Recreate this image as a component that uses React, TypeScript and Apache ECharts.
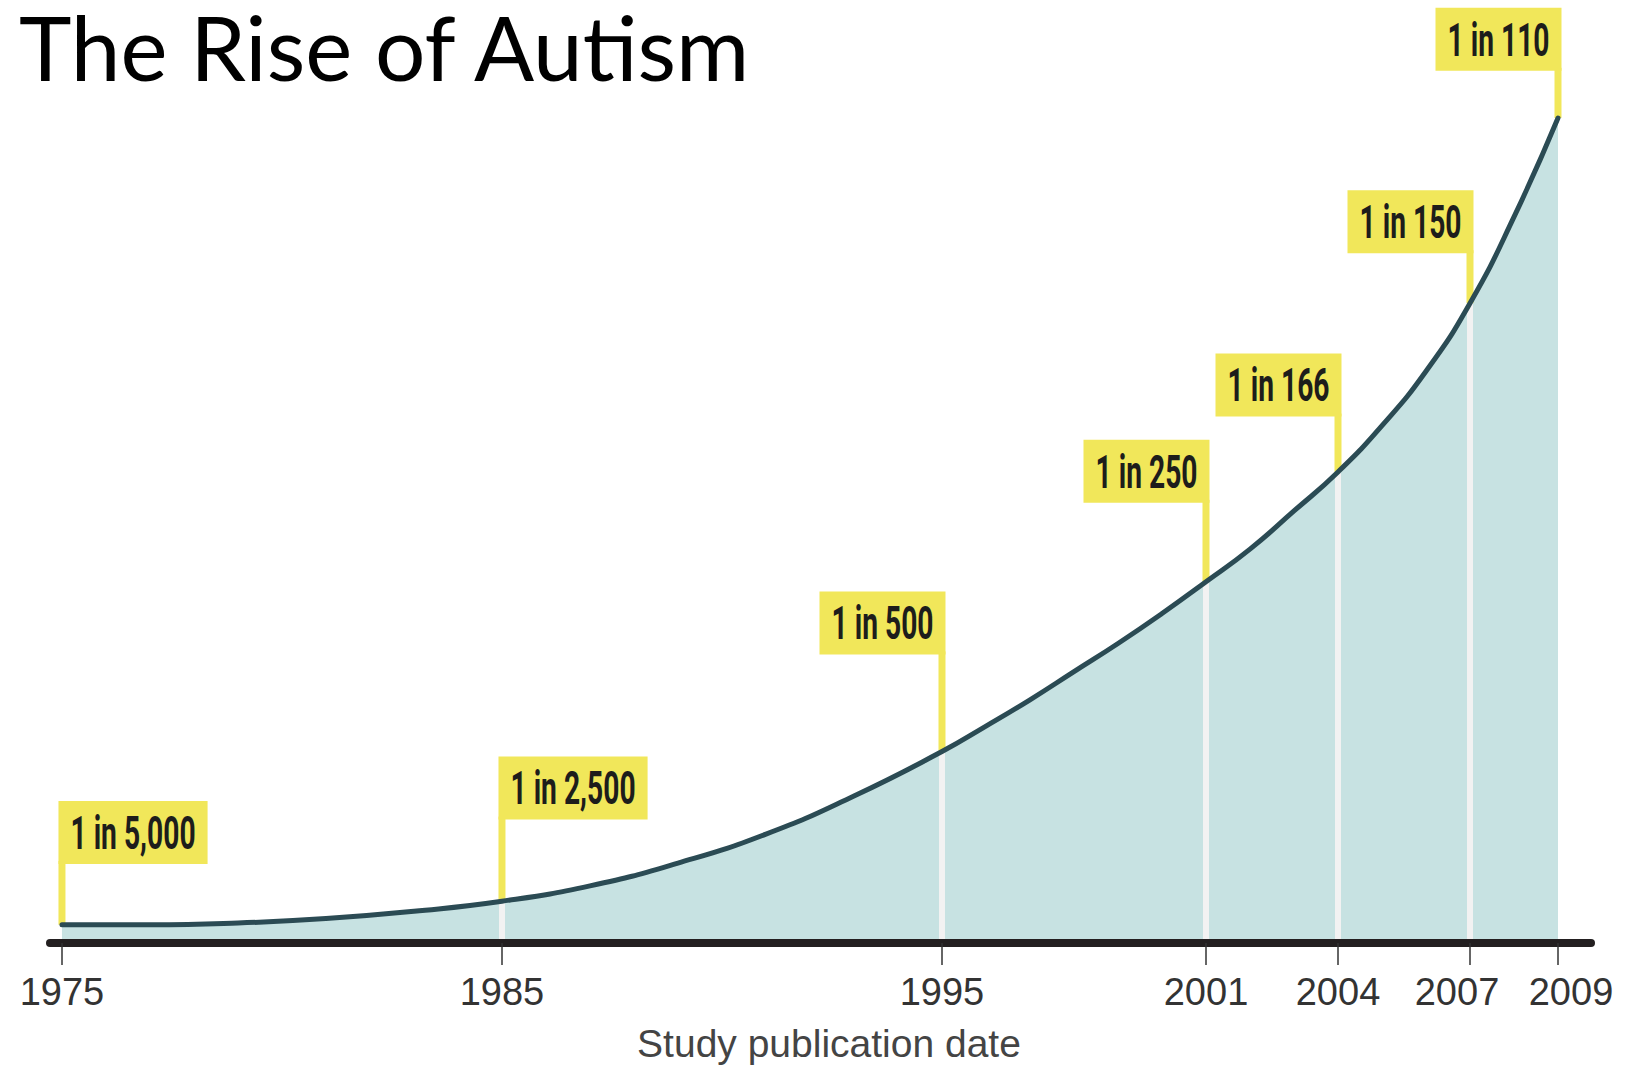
import React, { useEffect, useRef } from "react";
import * as echarts from "echarts";

// Tick years on the x axis
const tickYears = [1975, 1985, 1995, 2001, 2004, 2007, 2009];

// Study annotations
const studyYears = [1975, 1985, 1995, 2001, 2004, 2007, 2009];
const studyLabels = ["1 in 5,000", "1 in 2,500", "1 in 500", "1 in 250", "1 in 166", "1 in 150", "1 in 110"];
// height of the curve at each study year (cases per 10,000)
const studyCurve = [2.0, 4.6, 21.1, 39.8, 51.9, 70.5, 90.9];
// level of the bottom of each label box, same units
const labelLevels = [8.7, 13.6, 31.8, 48.5, 58.0, 76.0, 96.1];
const labelSide = ["left", "left", "right", "right", "right", "right", "right"];

// Curve
const curveYears = [1975, 1977, 1979, 1981, 1983, 1985, 1987, 1989, 1991, 1993, 1995, 1996, 1997, 1998, 1999, 2000, 2001, 2002, 2003, 2004, 2005, 2006, 2007, 2008, 2009];
const curveValues = [2.0, 2.0, 2.2, 2.7, 3.5, 4.6, 6.3, 8.8, 12.0, 16.2, 21.1, 23.9, 26.8, 29.9, 33.0, 36.3, 39.8, 43.4, 47.6, 51.9, 57.0, 63.0, 70.5, 80.0, 90.9];

const YELLOW = "#f1e75a";

export default function App() {
  const ref = useRef<HTMLDivElement>(null);
  useEffect(() => {
    document.body.style.margin = "0";
    document.body.style.overflow = "hidden";
    const chart = echarts.init(ref.current!, null, { renderer: "svg" });
    const curve = curveYears.map((y, i) => [y, curveValues[i]]);
    const ann = studyYears.map((y, i) => [y, studyCurve[i], labelLevels[i]]);
    const n = studyYears.length;
    chart.setOption({
      animation: false,
      backgroundColor: "#ffffff",
      title: [
        {
          text: "The Rise of Autism",
          left: 19,
          top: 2,
          padding: 0,
          textStyle: { fontFamily: "Lato", fontSize: 89, fontWeight: "normal", color: "#000" },
        },
        {
          text: "Study publication date",
          left: 829,
          top: 1024,
          padding: 0,
          textAlign: "center",
          textStyle: { fontFamily: "Liberation Sans", fontSize: 39, fontWeight: "normal", color: "#444" },
        },
      ],
      grid: { left: 50, right: 36, top: 35.4, bottom: 124, containLabel: false },
      xAxis: {
        type: "value",
        min: 1974.728,
        max: 2009.75,
        z: 10,
        splitLine: { show: false },
        axisLine: { show: true, lineStyle: { color: "#231f20", width: 8 } },
        axisTick: {
          show: true,
          customValues: tickYears,
          length: 22,
          lineStyle: { color: "#333", width: 1.5 },
        },
        axisLabel: {
          customValues: tickYears,
          margin: 30,
          hideOverlap: false,
          showMinLabel: true,
          showMaxLabel: true,
          fontFamily: "Liberation Sans",
          fontSize: 38,
          color: "#333",
          formatter: (v: number) => {
            const y = Math.round(v);
            if (y === 2007) return "{l|" + y + "}";
            if (y === 2009) return "{r|" + y + "}";
            return String(y);
          },
          rich: {
            l: { fontFamily: "Liberation Sans", fontSize: 38, color: "#333", padding: [0, 26, 0, 0] },
            r: { fontFamily: "Liberation Sans", fontSize: 38, color: "#333", padding: [0, 0, 0, 26] },
          },
        },
      },
      yAxis: { type: "value", min: 0, max: 100, show: false },
      series: [
        {
          type: "line",
          z: 2,
          data: curve,
          smooth: 0.5,
          showSymbol: false,
          lineStyle: { width: 0, opacity: 0 },
          areaStyle: { color: "#c7e2e2", opacity: 1 },
          silent: true,
        },
        {
          type: "custom",
          z: 3,
          data: ann,
          renderItem: (params: any, api: any) => {
            const i = params.dataIndex;
            const year = api.value(0);
            const cv = api.value(1);
            const lv = api.value(2);
            const base = api.coord([year, 0]);
            const top = api.coord([year, cv]);
            const lab = api.coord([year, lv]);
            const left = labelSide[i] === "left";
            const sw = 7;
            const edgeX = left ? top[0] - sw / 2 : top[0] + sw / 2;
            const children: any[] = [];
            if (i > 0 && i < n - 1) {
              children.push({
                type: "line",
                shape: { x1: base[0], y1: base[1] - 3, x2: top[0], y2: top[1] },
                style: { stroke: "#f2f2f2", lineWidth: 6 },
              });
            }
            children.push(
              {
                type: "line",
                shape: { x1: top[0], y1: top[1], x2: lab[0], y2: lab[1] - 3 },
                style: { stroke: YELLOW, lineWidth: sw },
              },
              {
                type: "text",
                x: edgeX,
                y: lab[1],
                scaleX: 0.6,
                style: {
                  text: studyLabels[i],
                  align: left ? "left" : "right",
                  verticalAlign: "bottom",
                  fontFamily: "Roboto",
                  fontWeight: "bold",
                  fontSize: 47,
                  lineHeight: 47,
                  fill: "#1d1d1b",
                  backgroundColor: YELLOW,
                  padding: [8, 20, 8, 20],
                },
              }
            );
            return { type: "group", children };
          },
        },
        {
          type: "line",
          z: 4,
          data: curve,
          smooth: 0.5,
          showSymbol: false,
          lineStyle: { width: 5, color: "#2b4b54", cap: "round" },
          silent: true,
        },
      ],
    });
    return () => chart.dispose();
  }, []);
  return <div ref={ref} style={{ width: 1627, height: 1067 }} />;
}
